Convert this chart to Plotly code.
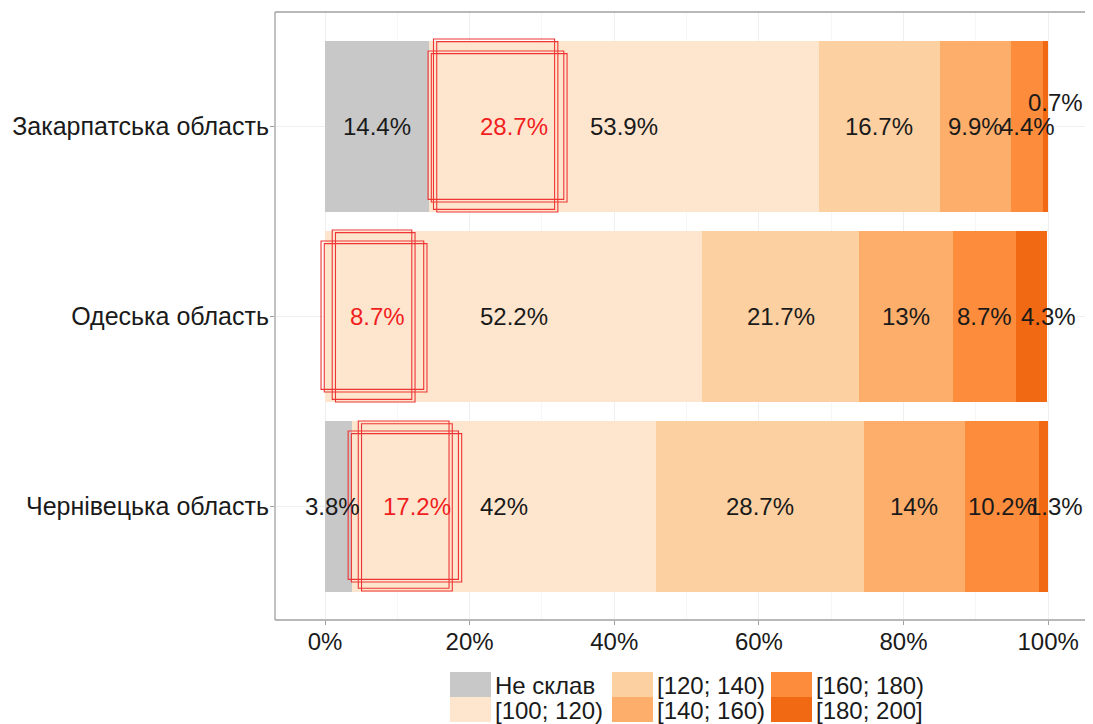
import plotly.graph_objects as go

categories = ["Закарпатська область", "Одеська область", "Чернівецька область"]
groups = ["Не склав", "[100; 120)", "[120; 140)", "[140; 160)", "[160; 180)", "[180; 200]"]

v_ne_sklav = [14.4, 0.0, 3.8]
v_100_120 = [53.9, 52.2, 42.0]
v_120_140 = [16.7, 21.7, 28.7]
v_140_160 = [9.9, 13.0, 14.0]
v_160_180 = [4.4, 8.7, 10.2]
v_180_200 = [0.7, 4.3, 1.3]

highlight_values = [28.7, 8.7, 17.2]

tick_vals = [0, 20, 40, 60, 80, 100]
tick_text = ["0%", "20%", "40%", "60%", "80%", "100%"]

series = [v_ne_sklav, v_100_120, v_120_140, v_140_160, v_160_180, v_180_200]
colors = ["#C8C8C8", "#FEE6CE", "#FDD0A2", "#FDAE6B", "#FD8D3C", "#F16913"]

FONT = "Liberation Sans, Arial, sans-serif"
TXT = "#1A1A1A"

# page has an 8px body margin: figure is placed at (8, 8)
OFF = 8
FIG_W, FIG_H = 1093 - OFF, 724 - OFF
PANEL_L, PANEL_T, PANEL_B = 275 - OFF, 12 - OFF, 620 - OFF

fig = go.Figure()
for name, vals, col in zip(groups, series, colors):
    fig.add_trace(go.Bar(
        y=categories, x=vals, name=name, orientation="h",
        marker=dict(color=col, line=dict(width=0)),
        width=0.9, showlegend=False, hoverinfo="x+name",
    ))

# label placement tweaks (position only)
label_nudge = {(0, 5): (1.4, 24), (1, 5): (2.25, 0), (2, 5): (1.65, 0), (2, 0): (-0.8, 0)}

annotations = []
for ci, cat in enumerate(categories):
    cum = 0.0
    for gi, vals in enumerate(series):
        v = vals[ci]
        if v > 0:
            dx, dy = label_nudge.get((ci, gi), (0, 0))
            annotations.append(dict(
                x=cum + v / 2 + dx, y=ci, xref="x", yref="y", text=f"{v:g}%",
                showarrow=False, yshift=dy, font=dict(family=FONT, size=24, color=TXT)))
        cum += v

# red highlight labels and hand-drawn style boxes
red_label_x = [26.1, 7.3, 12.7]
box_wide = [(14.25, 33.47, -0.395, 0.40), (-0.55, 14.1, 0.605, 1.40), (3.2, 18.9, 1.605, 2.40)]
box_tall = [(15.0, 32.2, -0.458, 0.453), (1.0, 12.45, 0.547, 1.453), (4.6, 17.6, 1.553, 2.447)]
DX, DY = 0.45, 0.014
shapes = []
for ci in range(3):
    annotations.append(dict(
        x=red_label_x[ci], y=ci, xref="x", yref="y", text=f"{highlight_values[ci]:g}%",
        showarrow=False, font=dict(family=FONT, size=24, color="#F01E1E")))
    for (x0, x1, y0, y1) in (box_wide[ci], box_tall[ci]):
        for (ax, ay) in ((0, 0), (DX, DY)):
            shapes.append(dict(type="rect", xref="x", yref="y",
                               x0=x0 + ax, x1=x1 - DX + ax, y0=y0 + ay, y1=y1 - DY + ay,
                               line=dict(color="#EE3535", width=1.1), fillcolor="rgba(0,0,0,0)"))

# panel border (left, top, bottom)
for (x0, y0, x1, y1) in [(0, 0, 0, 1), (0, 1, 1, 1), (0, 0, 1, 0)]:
    shapes.append(dict(type="line", xref="paper", yref="paper", x0=x0, y0=y0, x1=x1, y1=y1,
                       line=dict(color="#A0A0A0", width=1.3)))

# manual legend (screen pixel layout converted to paper coords)
PW = FIG_W - PANEL_L
PH = PANEL_B - PANEL_T
def px(xs):
    return (xs - OFF - PANEL_L) / PW
def py(ys):
    return (PANEL_B - (ys - OFF)) / PH

legend_cols = [[0, 1], [2, 3], [4, 5]]
col_key_x = [450, 612, 771]
key_w = 41
row_top = [672, 697]
row_h = 25
for c, idxs in enumerate(legend_cols):
    for r, gi in enumerate(idxs):
        shapes.append(dict(type="rect", xref="paper", yref="paper",
                           x0=px(col_key_x[c]), x1=px(col_key_x[c] + key_w),
                           y0=py(row_top[r] + row_h), y1=py(row_top[r]),
                           fillcolor=colors[gi], line=dict(width=0)))
        annotations.append(dict(
            x=px(col_key_x[c] + key_w + 2), y=py(row_top[r] + row_h / 2 + 1), xref="paper", yref="paper",
            text=groups[gi], showarrow=False, xanchor="left", yanchor="middle",
            font=dict(family=FONT, size=24, color=TXT)))

fig.update_layout(
    barmode="stack",
    width=FIG_W, height=FIG_H,
    margin=dict(l=PANEL_L, r=0, t=PANEL_T, b=FIG_H - PANEL_B, pad=0),
    plot_bgcolor="white", paper_bgcolor="white",
    font=dict(family=FONT, color=TXT),
    annotations=annotations, shapes=shapes,
    xaxis=dict(range=[-6.915, 106.2], tickvals=tick_vals, ticktext=tick_text,
               showgrid=True, gridcolor="#EFEFEF", gridwidth=1,
               minor=dict(tickvals=[10, 30, 50, 70, 90], showgrid=True, gridcolor="#F6F6F6"),
               zeroline=False, showline=False,
               ticks="outside", ticklen=4, tickcolor="#A0A0A0", ticklabelstandoff=-4,
               tickfont=dict(family=FONT, size=24, color=TXT)),
    yaxis=dict(categoryorder="array", categoryarray=categories, range=[2.6, -0.6],
               showgrid=True, gridcolor="#EFEFEF", zeroline=False, showline=False,
               ticks="outside", ticklen=4, tickcolor="#A0A0A0", ticklabelstandoff=-4,
               tickfont=dict(family=FONT, size=25, color=TXT)),
)

fig.write_html("out.html")
